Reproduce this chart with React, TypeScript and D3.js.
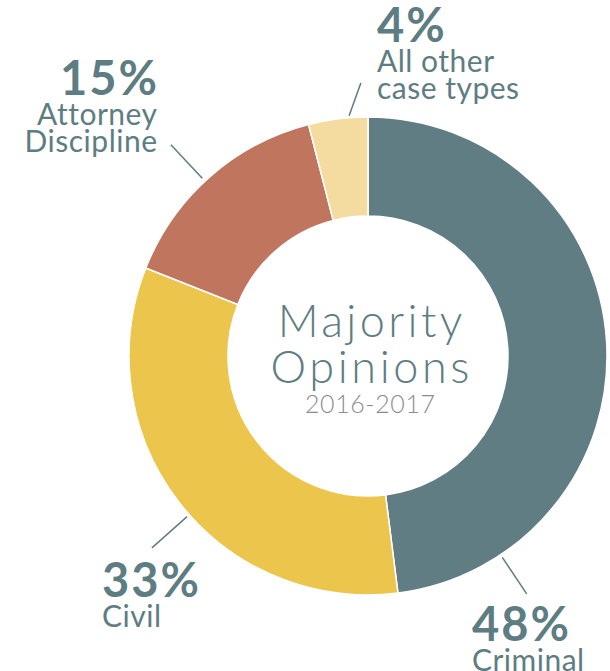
import { useEffect, useRef } from 'react'
import * as d3 from 'd3'

// Majority opinions by case type, 2016-2017 (percent of total)
const categories = ['Criminal', 'Civil', 'Attorney Discipline', 'All other case types']
const shares = [48, 33, 15, 4]
const labelLines = [['Criminal'], ['Civil'], ['Attorney', 'Discipline'], ['All other', 'case types']]
const colors = ['#5f7d82', '#ecc54d', '#bf755e', '#f4dca1']

const TEXT = '#5e7d82'
const FONT = 'Lato, "Noto Sans", sans-serif'

// label placement (layout only): anchor x, baseline of the percentage, leader in polar coords (deg, radius)
const labelLayout = [
  { x: 472, y: 641, anchor: 'start', leader: [[146.3, 242], [146.3, 286]] },
  { x: 102, y: 597, anchor: 'start', leader: [[228.4, 242], [228.4, 289]] },
  { x: 157, y: 95, anchor: 'end', leader: [[317, 243], [317, 289]] },
  { x: 377, y: 42, anchor: 'start', leader: [[355.5, 241], [358.5, 273]] },
]

export default function App() {
  const svgRef = useRef<SVGSVGElement>(null)

  useEffect(() => {
    document.body.style.margin = '0'
    const svg = d3.select(svgRef.current)
    svg.selectAll('*').remove()

    const cx = 368
    const cy = 356
    const outerR = 239
    const innerR = 140

    const data = categories.map((c, i) => ({ name: c, value: shares[i], i }))
    const pie = d3.pie<any>().sort(null).value(d => d.value)
    const arc = d3.arc<any>().innerRadius(innerR).outerRadius(outerR)

    const g = svg.append('g').attr('transform', `translate(${cx},${cy})`)

    g.selectAll('path')
      .data(pie(data))
      .enter()
      .append('path')
      .attr('d', arc)
      .attr('fill', d => colors[d.data.i])
      .attr('stroke', '#fff')
      .attr('stroke-width', 1.5)

    const polar = (deg: number, r: number) => {
      const a = (deg * Math.PI) / 180
      return [r * Math.sin(a), -r * Math.cos(a)]
    }

    // leader lines
    labelLayout.forEach(l => {
      const [p1, p2] = l.leader.map(([d, r]) => polar(d, r))
      g.append('line')
        .attr('x1', p1[0]).attr('y1', p1[1])
        .attr('x2', p2[0]).attr('y2', p2[1])
        .attr('stroke', TEXT)
        .attr('stroke-width', 1.5)
    })

    // labels
    data.forEach((d, i) => {
      const l = labelLayout[i]
      const endAdj = l.anchor === 'end'
      const pct = svg.append('text')
        .attr('text-anchor', l.anchor)
        .attr('font-family', FONT)
        .attr('fill', TEXT)
        .attr('x', endAdj ? l.x + 2 : l.x).attr('y', l.y)
        .attr('font-size', 47)
        .attr('font-weight', 700)
        .attr('letter-spacing', 2)
        .text(`${d.value}%`)
      labelLines[i].forEach((line, j) => {
        svg.append('text')
          .attr('text-anchor', l.anchor)
          .attr('font-family', FONT)
          .attr('fill', TEXT)
          .attr('x', endAdj ? l.x + 0.5 : l.x).attr('y', l.y + 30 + j * 27)
          .attr('font-size', 30)
          .attr('font-weight', 400)
          .attr('letter-spacing', 0.5)
          .text(line)
      })
      pct.raise()
    })

    // center title
    const title = [
      { text: 'Majority', y: 337, size: 45, spacing: 3.4, fill: TEXT },
      { text: 'Opinions', y: 383, size: 45, spacing: 3.6, fill: TEXT },
      { text: '2016-2017', y: 413, size: 25, spacing: 0.6, fill: '#8c8c8c' },
    ]
    title.forEach(t => {
      svg.append('text')
        .attr('text-anchor', 'middle')
        .attr('font-family', FONT)
        .attr('x', 370 + t.spacing / 2).attr('y', t.y)
        .attr('font-size', t.size)
        .attr('font-weight', 300)
        .attr('letter-spacing', t.spacing)
        .attr('fill', t.fill)
        .text(t.text)
    })
  }, [])

  return <svg ref={svgRef} width={610} height={671} style={{ display: 'block' }} />
}
